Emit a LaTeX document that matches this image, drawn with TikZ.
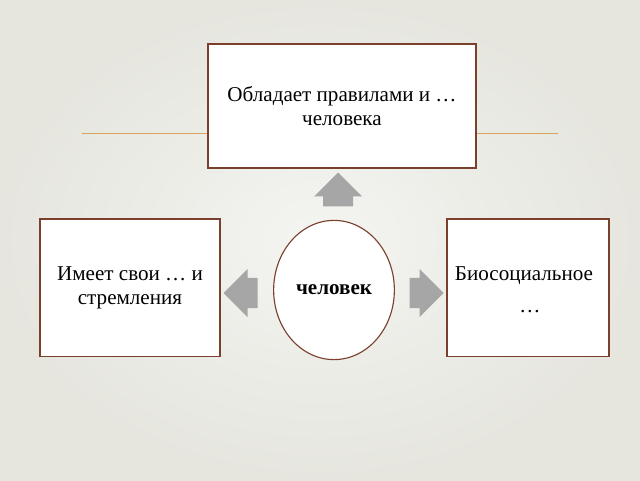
\documentclass[tikz,border=0pt]{standalone}
\usepackage{fontspec}
\setmainfont{Liberation Serif}
\usepackage{tikz}
\usetikzlibrary{shapes.geometric,shapes.arrows}
\definecolor{bordbrown}{HTML}{7B3F2E}
\definecolor{lineorange}{HTML}{D9A55E}
\definecolor{arrgray}{HTML}{A6A6A6}
\definecolor{bgouter}{HTML}{E6E6DF}
\definecolor{bginner}{HTML}{F4F4F1}
\begin{document}
\begin{tikzpicture}[
    infobox/.style={draw=bordbrown,fill=white,thick,align=center,font=\fontsize{15}{17}\selectfont},
    blockarrow/.style={single arrow,fill=arrgray,draw=none,minimum height=0.85cm,minimum width=1.2cm,single arrow head extend=0.22cm,inner xsep=0pt,inner ysep=0.36cm}
]
    \shade[inner color=bginner,outer color=bgouter] (0,0) rectangle (16,12);
    \useasboundingbox (0,0) rectangle (16,12);

    % decorative rule
    \coordinate (la) at (2.05,8.675);
    \coordinate (lb) at (13.95,8.675);
    \draw[lineorange] (la) -- (lb);

    \node[infobox,minimum width=6.7cm,minimum height=3.1cm] (rules) at (8.55,9.35) {Обладает правилами и …\\человека};
    \node[infobox,minimum width=4.5cm,minimum height=3.43cm] (aims) at (3.25,4.81) {Имеет свои … и\\стремления};
    \node[infobox,minimum width=4.05cm,minimum height=3.43cm] (bio) at (13.2,4.81) {};
    \node[font=\fontsize{15}{17}\selectfont] (biotext) at (13.1,5.1) {Биосоциальное};
    \node[font=\fontsize{15}{17}\selectfont] (biodots) at (13.25,4.2) {…};
    \node[ellipse,draw=bordbrown,fill=white,thick,minimum width=3cm,minimum height=3.48cm,font=\bfseries\fontsize{15}{17}\selectfont] (man) at (8.35,4.75) {человек};

    \node[blockarrow,rotate=90] (up) at (8.45,7.075) {};
    \node[blockarrow,rotate=180] (left) at (6.2,4.675) {};
    \node[blockarrow] (right) at (10.475,4.675) {};
\end{tikzpicture}
\end{document}
